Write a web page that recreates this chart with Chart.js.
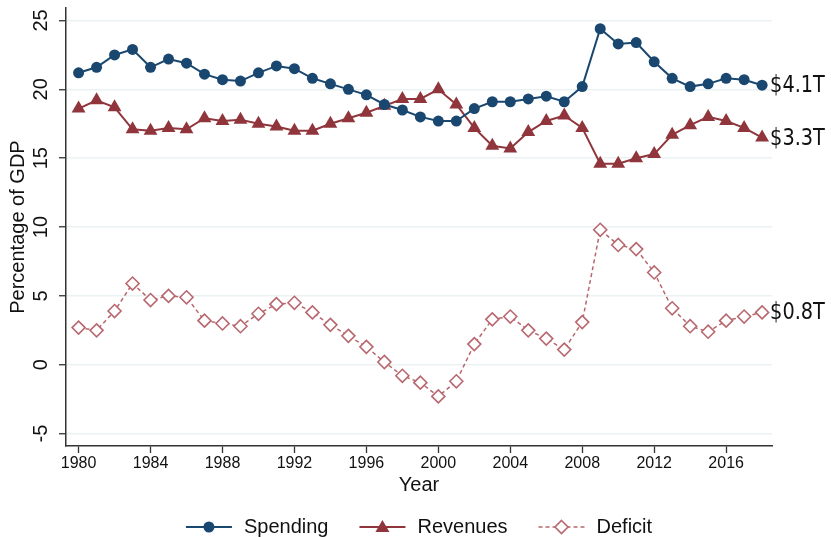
<!DOCTYPE html>
<html>
<head>
<meta charset="utf-8">
<script src="https://cdn.jsdelivr.net/npm/chart.js@4.4.1/dist/chart.umd.min.js"></script>
<style>
  html, body { margin: 0; padding: 0; background: #fff; }
</style>
</head>
<body>
<canvas id="chart" width="831" height="537"></canvas>
<script>
// data (percent of GDP)
const years = [1980, 1981, 1982, 1983, 1984, 1985, 1986, 1987, 1988, 1989,
  1990, 1991, 1992, 1993, 1994, 1995, 1996, 1997, 1998, 1999,
  2000, 2001, 2002, 2003, 2004, 2005, 2006, 2007, 2008, 2009,
  2010, 2011, 2012, 2013, 2014, 2015, 2016, 2017, 2018];
const spending = [21.2, 21.6, 22.5, 22.9, 21.6, 22.2, 21.9, 21.1, 20.7, 20.6,
  21.2, 21.7, 21.5, 20.8, 20.4, 20.0, 19.6, 18.9, 18.5, 18.0,
  17.7, 17.7, 18.6, 19.1, 19.1, 19.3, 19.5, 19.1, 20.2, 24.4,
  23.3, 23.4, 22.0, 20.8, 20.2, 20.4, 20.8, 20.7, 20.3];
const revenues = [18.6, 19.2, 18.7, 17.1, 17.0, 17.2, 17.1, 17.9, 17.7, 17.8,
  17.5, 17.3, 17.0, 17.0, 17.5, 17.9, 18.3, 18.8, 19.3, 19.3,
  20.0, 18.9, 17.2, 15.9, 15.7, 16.9, 17.7, 18.1, 17.2, 14.6,
  14.6, 15.0, 15.3, 16.7, 17.4, 18.0, 17.7, 17.2, 16.5];
const deficit = [2.7, 2.5, 3.9, 5.9, 4.7, 5.0, 4.9, 3.2, 3.0, 2.8,
  3.7, 4.4, 4.5, 3.8, 2.9, 2.1, 1.3, 0.2, -0.8, -1.3,
  -2.3, -1.2, 1.5, 3.3, 3.5, 2.5, 1.9, 1.1, 3.1, 9.8,
  8.7, 8.4, 6.7, 4.1, 2.8, 2.4, 3.2, 3.5, 3.8];
const seriesNames = ['Spending', 'Revenues', 'Deficit'];
const endLabels = ['$4.1T', '$3.3T', '$0.8T'];
const xTicks = [1980, 1984, 1988, 1992, 1996, 2000, 2004, 2008, 2012, 2016];
const yTicks = [-5, 0, 5, 10, 15, 20, 25];

const NAVY = '#1a476f';
const MAROON = '#90353b';
const ROSE = '#b8676f';
const FONT = '"Liberation Sans", Arial, sans-serif';

function pts(vals) {
  return years.map((yr, i) => ({ x: yr, y: vals[i] }));
}

function marker(ctx, style, x, y, color) {
  ctx.save();
  ctx.fillStyle = color;
  ctx.strokeStyle = color;
  ctx.beginPath();
  if (style === 'circle') {
    ctx.arc(x, y, 5.5, 0, Math.PI * 2);
    ctx.fill();
  } else if (style === 'triangle') {
    ctx.moveTo(x, y - 7);
    ctx.lineTo(x + 7, y + 5);
    ctx.lineTo(x - 7, y + 5);
    ctx.closePath();
    ctx.fill();
  } else {
    ctx.fillStyle = '#fff';
    ctx.lineWidth = 1.6;
    ctx.moveTo(x, y - 6.5);
    ctx.lineTo(x + 6.5, y);
    ctx.lineTo(x, y + 6.5);
    ctx.lineTo(x - 6.5, y);
    ctx.closePath();
    ctx.fill();
    ctx.stroke();
  }
  ctx.restore();
}

const decor = {
  id: 'decor',
  afterDatasetsDraw(chart) {
    const ctx = chart.ctx;
    const area = chart.chartArea;
    const ys = chart.scales.y;
    ctx.save();
    ctx.fillStyle = '#111';

    // rotated y tick labels
    ctx.font = '20px ' + FONT;
    ctx.textAlign = 'center';
    ctx.textBaseline = 'middle';
    yTicks.forEach(v => {
      ctx.save();
      ctx.translate(41, ys.getPixelForValue(v));
      ctx.rotate(-Math.PI / 2);
      ctx.fillText(String(v), 0, 0);
      ctx.restore();
    });

    // axis titles
    ctx.font = '20px ' + FONT;
    ctx.save();
    ctx.translate(18, (area.top + area.bottom) / 2);
    ctx.rotate(-Math.PI / 2);
    ctx.fillText('Percentage of GDP', 0, 0);
    ctx.restore();
    const cx = (area.left + area.right) / 2;
    ctx.fillText('Year', cx, 485);

    // end-of-line labels (condensed look)
    ctx.font = '23px "DejaVu Sans", sans-serif';
    ctx.textAlign = 'left';
    chart.data.datasets.forEach((ds, i) => {
      const meta = chart.getDatasetMeta(i);
      const last = meta.data[meta.data.length - 1];
      ctx.save();
      ctx.translate(last.x + 8, last.y + 1);
      ctx.scale(0.84, 1);
      ctx.fillText(endLabels[i], 0, 0);
      ctx.restore();
    });

    // legend: line with marker in the middle, then the name
    ctx.font = '20px ' + FONT;
    const lineW = 46, gapText = 12, gapItem = 31, ly = 527;
    const widths = seriesNames.map(n => lineW + gapText + ctx.measureText(n).width);
    const total = widths.reduce((a, b) => a + b, 0) + gapItem * (seriesNames.length - 1);
    let lx = cx - total / 2;
    chart.data.datasets.forEach((ds, i) => {
      ctx.save();
      ctx.strokeStyle = ds.borderColor;
      ctx.lineWidth = ds.borderWidth;
      ctx.setLineDash(ds.borderDash || []);
      ctx.beginPath();
      ctx.moveTo(lx, ly);
      ctx.lineTo(lx + lineW, ly);
      ctx.stroke();
      ctx.restore();
      marker(ctx, ds.pointStyle, lx + lineW / 2, ly, ds.borderColor);
      ctx.fillStyle = '#111';
      ctx.textBaseline = 'middle';
      ctx.fillText(seriesNames[i], lx + lineW + gapText, ly);
      lx += widths[i] + gapItem;
    });
    ctx.restore();
  }
};

new Chart(document.getElementById('chart'), {
  type: 'line',
  data: {
    datasets: [
      {
        label: seriesNames[0], data: pts(spending),
        borderColor: NAVY, backgroundColor: NAVY, borderWidth: 2,
        pointStyle: 'circle', pointRadius: 5.5, pointBorderWidth: 0
      },
      {
        label: seriesNames[1], data: pts(revenues),
        borderColor: MAROON, backgroundColor: MAROON, borderWidth: 2,
        pointStyle: 'triangle', pointRadius: 8, pointBorderWidth: 0
      },
      {
        label: seriesNames[2], data: pts(deficit),
        borderColor: ROSE, backgroundColor: '#fff', borderWidth: 1.5, borderDash: [4, 3],
        pointStyle: 'rectRot', pointRadius: 6.5, pointBorderWidth: 1.6
      }
    ]
  },
  options: {
    responsive: false,
    animation: false,
    devicePixelRatio: 1,
    layout: { padding: { left: 0, right: 59, top: 7, bottom: 0 } },
    elements: { line: { tension: 0 } },
    plugins: { legend: { display: false }, tooltip: { enabled: false } },
    scales: {
      x: {
        type: 'linear', min: 1979.3, max: 2018.55,
        afterBuildTicks: s => { s.ticks = xTicks.map(v => ({ value: v })); },
        afterFit: s => { s.height = 91; },
        grid: { drawOnChartArea: false, tickLength: 7, tickColor: '#333', tickWidth: 1.3 },
        border: { color: '#333', width: 1.5 },
        ticks: {
          color: '#111', font: { size: 16, family: FONT }, padding: 1,
          maxRotation: 0, callback: v => String(v)
        }
      },
      y: {
        min: -5.9, max: 25.9,
        afterBuildTicks: s => { s.ticks = yTicks.map(v => ({ value: v })); },
        afterFit: s => { s.width = 66; },
        grid: { color: '#eaf2f3', lineWidth: 1.5, tickLength: 7, tickColor: '#333', tickWidth: 1.3 },
        border: { color: '#333', width: 1.5 },
        ticks: { display: false }
      }
    }
  },
  plugins: [decor]
});
</script>
</body>
</html>
